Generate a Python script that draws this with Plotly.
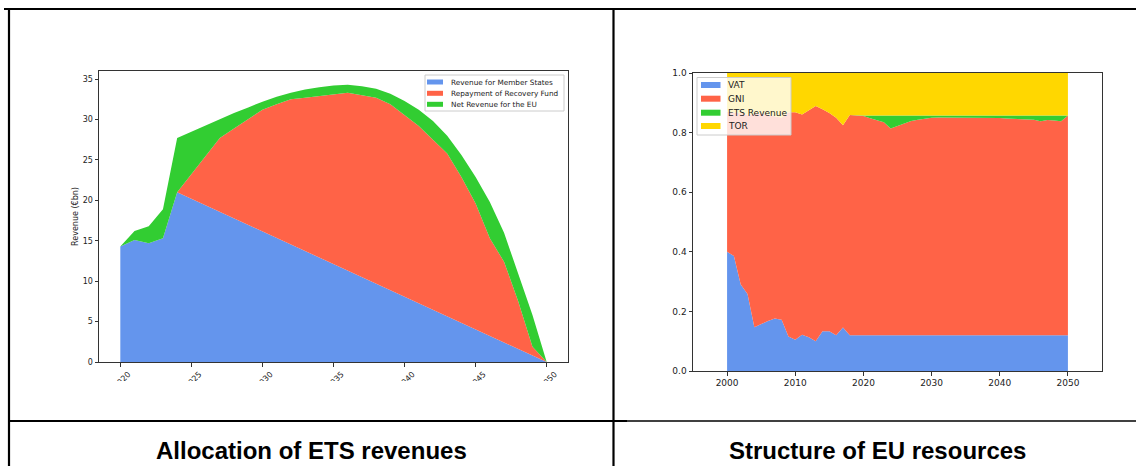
import plotly.graph_objects as go

W, H = 1136, 466

# ---- Allocation of ETS revenues (EUR bn, stacked) ----
alloc_years = list(range(2020, 2051))
member_states = [14.3, 15.1, 14.7, 15.3, 21.0, 20.19, 19.38, 18.58, 17.77, 16.96,
                 16.15, 15.35, 14.54, 13.73, 12.92, 12.12, 11.31, 10.5, 9.69, 8.88,
                 8.08, 7.27, 6.46, 5.65, 4.85, 4.04, 3.23, 2.42, 1.62, 0.81, 0.0]
recovery_fund = [0.0, 0.0, 0.0, 0.0, 0.0, 3.01, 6.12, 9.12, 11.13, 13.14,
                 15.05, 16.55, 17.96, 18.97, 19.98, 20.98, 21.99, 22.5, 23.01, 23.02,
                 22.52, 21.93, 21.04, 20.15, 18.05, 15.56, 12.07, 9.98, 5.88, 1.09, 0.0]
net_eu = [0.0, 1.1, 2.1, 3.6, 6.7, 5.3, 3.8, 2.4, 1.9, 1.4,
          1.0, 0.9, 0.8, 1.0, 1.1, 1.1, 1.0, 1.1, 1.1, 1.3,
          1.7, 2.0, 2.3, 2.2, 2.7, 3.3, 4.5, 3.6, 3.5, 3.9, 0.0]

# ---- Structure of EU resources (shares) ----
res_years = list(range(2000, 2051))
vat = [0.400, 0.386, 0.290, 0.258, 0.147, 0.158, 0.168, 0.176, 0.172, 0.116,
       0.105, 0.122, 0.113, 0.100, 0.133, 0.133, 0.120, 0.146, 0.120] + [0.120] * 32
gni = [0.470, 0.482, 0.575, 0.602, 0.715, 0.707, 0.692, 0.679, 0.678, 0.752,
       0.763, 0.739, 0.762, 0.789, 0.745, 0.733, 0.730, 0.679, 0.739, 0.737,
       0.736, 0.728, 0.722, 0.715, 0.694, 0.702, 0.711, 0.719, 0.723, 0.727,
       0.730, 0.731, 0.731, 0.731, 0.731, 0.731, 0.731, 0.731, 0.731, 0.730,
       0.729, 0.727, 0.726, 0.726, 0.725, 0.723, 0.718, 0.722, 0.721, 0.718,
       0.737]
ets = [0.0] * 20 + [0.001, 0.009, 0.015, 0.022, 0.043, 0.035, 0.026, 0.018, 0.014, 0.010,
                    0.007, 0.006, 0.006, 0.006, 0.006, 0.006, 0.006, 0.006, 0.006, 0.007,
                    0.008, 0.010, 0.011, 0.011, 0.012, 0.014, 0.019, 0.015, 0.016, 0.019,
                    0.000]
tor = [0.130, 0.132, 0.135, 0.140, 0.138, 0.135, 0.140, 0.145, 0.150, 0.132,
       0.132, 0.139, 0.125, 0.111, 0.122, 0.134, 0.150, 0.175, 0.141, 0.143] + [0.143] * 31

alloc_names = ["Revenue for Member States", "Repayment of Recovery Fund", "Net Revenue for the EU"]
res_names = ["VAT", "GNI", "ETS Revenue", "TOR"]
colors = ["#6495ED", "#FF6347", "#32CD32", "#FFD700"]

captions = ["Allocation of ETS revenues", "Structure of EU resources"]

FONT = "DejaVu Sans"


def px_x(p):
    return p / W


def px_y(p):
    return 1 - p / H


fig = go.Figure()

for name, vals, col in zip(alloc_names, [member_states, recovery_fund, net_eu], colors):
    fig.add_trace(go.Scatter(
        x=alloc_years, y=vals, name=name, mode="lines", stackgroup="alloc",
        line=dict(width=0, color=col), fillcolor=col, showlegend=False,
        xaxis="x", yaxis="y"))

for name, vals, col in zip(res_names, [vat, gni, ets, tor], colors):
    fig.add_trace(go.Scatter(
        x=res_years, y=vals, name=name, mode="lines", stackgroup="res",
        line=dict(width=0, color=col), fillcolor=col, showlegend=False,
        xaxis="x2", yaxis="y2"))

axis_common = dict(showline=True, mirror=True, linecolor="#333333", linewidth=1,
                   ticks="outside", ticklen=3.5, tickwidth=0.8, tickcolor="#333333",
                   showgrid=False, zeroline=False, automargin=False)

fig.update_layout(
    width=W, height=H, autosize=False,
    margin=dict(l=0, r=0, t=0, b=0, pad=0, autoexpand=False),
    paper_bgcolor="white", plot_bgcolor="white",
    font=dict(family=FONT, color="#222222"),
    showlegend=False,
    xaxis=dict(domain=[px_x(99), px_x(568)], range=[2018.5, 2051.5],
               tickmode="array", tickvals=[2020, 2025, 2030, 2035, 2040, 2045, 2050],
               tickangle=-45, ticklabelshift=8, tickfont=dict(size=8), anchor="y",
               **axis_common),
    yaxis=dict(domain=[px_y(362), px_y(71)], range=[0, 36.0],
               tickmode="array", tickvals=[0, 5, 10, 15, 20, 25, 30, 35],
               tickfont=dict(size=8), anchor="x",
               title=dict(text="Revenue (€bn)", font=dict(size=8), standoff=2),
               **axis_common),
    xaxis2=dict(domain=[px_x(693), px_x(1102)], range=[1995, 2055],
                tickmode="array", tickvals=[2000, 2010, 2020, 2030, 2040, 2050],
                tickfont=dict(size=9), anchor="y2", **axis_common),
    yaxis2=dict(domain=[px_y(371), px_y(73)], range=[0, 1],
                tickmode="array", tickvals=[0, 0.2, 0.4, 0.6, 0.8, 1.0],
                ticktext=["0.0", "0.2", "0.4", "0.6", "0.8", "1.0"],
                tickfont=dict(size=9), anchor="x2", **axis_common),
)

shapes = []
annotations = []


def draw_legend(box, rows, patch_x, patch_h, text_x, names, size):
    """Compact matplotlib-style legend: framed box, colour patches and labels (pixel units)."""
    x0, y0, x1, y1 = box
    shapes.append(dict(type="rect", xref="paper", yref="paper",
                       x0=px_x(x0), x1=px_x(x1), y0=px_y(y1), y1=px_y(y0),
                       fillcolor="rgba(255,255,255,0.8)",
                       line=dict(color="#cccccc", width=1), layer="above"))
    for yc, name, col in zip(rows, names, colors):
        shapes.append(dict(type="rect", xref="paper", yref="paper",
                           x0=px_x(patch_x[0]), x1=px_x(patch_x[1]),
                           y0=px_y(yc + patch_h / 2), y1=px_y(yc - patch_h / 2),
                           fillcolor=col, line=dict(width=0), layer="above"))
        annotations.append(dict(text=name, xref="paper", yref="paper",
                                x=px_x(text_x), y=px_y(yc), xanchor="left", yanchor="middle",
                                showarrow=False, font=dict(size=size, family=FONT, color="#222222")))


draw_legend((425, 75, 564, 111), [82, 93.3, 104.3], (427, 443), 5, 448.5, alloc_names, 7.3)
draw_legend((697, 77.5, 791, 135), [85, 98.7, 112.7, 126], (701, 720.5), 6, 726, res_names, 9)

# white band hiding the lower part of the rotated year labels
shapes.append(dict(type="rect", xref="paper", yref="paper",
                   x0=px_x(11), x1=px_x(612), y0=px_y(419), y1=px_y(381),
                   fillcolor="white", line=dict(width=0), layer="above"))
# table frame
lines = [
    (4, 9, W, 9, 2.2),          # top rule
    (9, 9, 9, H, 2.2),          # left rule
    (613.5, 9, 613.5, H, 2.2),  # middle rule
    (9, 421, 627, 421, 2.2),    # row separator, left part
    (627, 421, W, 421, 1.3),    # row separator, right part
]
for x0, y0, x1, y1, w in lines:
    shapes.append(dict(type="line", xref="paper", yref="paper",
                       x0=px_x(x0), y0=px_y(y0), x1=px_x(x1), y1=px_y(y1),
                       line=dict(color="black", width=w), layer="above"))

for text, cx in zip(captions, [311, 877]):
    annotations.append(dict(text="<b>" + text + "</b>", xref="paper", yref="paper",
                            x=px_x(cx), y=px_y(450), xanchor="center", yanchor="middle",
                            showarrow=False,
                            font=dict(size=24, family="Liberation Sans Narrow, Arial Narrow, sans-serif",
                                      color="black")))

fig.update_layout(shapes=shapes, annotations=annotations)

fig.write_html("out.html")
